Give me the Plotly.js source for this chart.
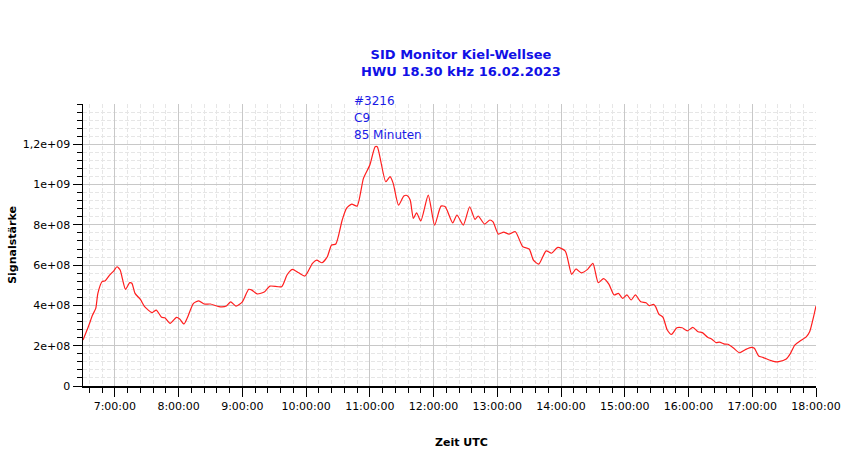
<!DOCTYPE html>
<html>
<head>
<meta charset="utf-8">
<script src="https://cdn.plot.ly/plotly-3.0.1.min.js"></script>
<style>
  html, body { margin: 0; padding: 0; background: #fff; }
  #sid-graph { width: 850px; height: 459px; }
</style>
</head>
<body>
<div id="sid-graph"></div>
<script>
'use strict';

// measurement day
var day = '2023-02-16';

// readings (UTC, HH:MM) and signal strength
var times = [
	'06:30', '06:35', '06:39', '06:42', '06:44', '06:48', '06:51', '06:55', '06:59', '07:02',
	'07:05', '07:07', '07:10', '07:14', '07:16', '07:19', '07:24', '07:28', '07:35', '07:39',
	'07:44', '07:47', '07:52', '07:58', '08:01', '08:05', '08:08', '08:14', '08:19', '08:24',
	'08:30', '08:38', '08:45', '08:49', '08:54', '09:00', '09:06', '09:09', '09:14', '09:21',
	'09:26', '09:37', '09:42', '09:47', '09:53', '09:59', '10:06', '10:10', '10:15', '10:20',
	'10:24', '10:28', '10:34', '10:38', '10:43', '10:48', '10:54', '11:00', '11:05', '11:07',
	'11:15', '11:19', '11:22', '11:27', '11:32', '11:35', '11:38', '11:41', '11:44', '11:48',
	'11:55', '12:01', '12:07', '12:11', '12:18', '12:22', '12:28', '12:34', '12:39', '12:42',
	'12:48', '12:53', '12:56', '13:01', '13:06', '13:11', '13:17', '13:24', '13:30', '13:34',
	'13:39', '13:46', '13:51', '13:57', '14:04', '14:10', '14:14', '14:19', '14:25', '14:30',
	'14:35', '14:40', '14:45', '14:50', '14:54', '14:58', '15:02', '15:06', '15:10', '15:15',
	'15:20', '15:23', '15:27', '15:29', '15:32', '15:36', '15:40', '15:44', '15:49', '15:54',
	'15:59', '16:04', '16:09', '16:13', '16:18', '16:22', '16:26', '16:29', '16:34', '16:37',
	'16:42', '16:48', '16:54', '16:59', '17:02', '17:06', '17:10', '17:16', '17:21', '17:25',
	'17:32', '17:36', '17:40', '17:45', '17:51', '17:54', '17:57', '18:00'
];

var signal = [
	2.28e8, 2.94e8, 3.52e8, 3.85e8, 4.60e8, 5.18e8, 5.23e8, 5.50e8, 5.72e8, 5.92e8,
	5.76e8, 5.34e8, 4.80e8, 5.13e8, 5.10e8, 4.60e8, 4.30e8, 3.94e8, 3.64e8, 3.77e8,
	3.41e8, 3.39e8, 3.11e8, 3.41e8, 3.33e8, 3.08e8, 3.36e8, 4.10e8, 4.23e8, 4.07e8,
	4.07e8, 3.94e8, 3.97e8, 4.18e8, 3.97e8, 4.18e8, 4.80e8, 4.76e8, 4.57e8, 4.68e8,
	4.96e8, 4.93e8, 5.51e8, 5.79e8, 5.62e8, 5.46e8, 6.09e8, 6.25e8, 6.12e8, 6.42e8,
	7.00e8, 7.05e8, 8.24e8, 8.82e8, 9.03e8, 8.93e8, 1.031e9, 1.097e9, 1.188e9, 1.188e9,
	1.014e9, 1.039e9, 1.006e9, 8.98e8, 9.43e8, 9.46e8, 9.23e8, 8.32e8, 8.60e8, 8.20e8,
	9.48e8, 7.99e8, 8.93e8, 8.90e8, 8.10e8, 8.49e8, 7.99e8, 8.90e8, 8.27e8, 8.44e8,
	8.04e8, 8.24e8, 8.15e8, 7.54e8, 7.64e8, 7.54e8, 7.66e8, 6.91e8, 6.80e8, 6.25e8,
	6.05e8, 6.71e8, 6.59e8, 6.88e8, 6.70e8, 5.54e8, 5.81e8, 5.62e8, 5.79e8, 6.09e8,
	5.13e8, 5.33e8, 5.06e8, 4.52e8, 4.60e8, 4.35e8, 4.52e8, 4.27e8, 4.52e8, 4.18e8,
	4.13e8, 3.99e8, 4.05e8, 3.94e8, 3.57e8, 3.41e8, 2.78e8, 2.56e8, 2.89e8, 2.89e8,
	2.74e8, 2.91e8, 2.69e8, 2.65e8, 2.42e8, 2.32e8, 2.15e8, 2.18e8, 2.08e8, 2.07e8,
	1.90e8, 1.65e8, 1.82e8, 1.92e8, 1.87e8, 1.49e8, 1.42e8, 1.29e8, 1.21e8, 1.21e8,
	1.34e8, 1.62e8, 2.03e8, 2.23e8, 2.45e8, 2.69e8, 3.28e8, 3.97e8
];

// axis ticks
var xTickTimes = ['07:00', '08:00', '09:00', '10:00', '11:00', '12:00', '13:00', '14:00', '15:00', '16:00', '17:00', '18:00'];
var xTickLabels = ['7:00:00', '8:00:00', '9:00:00', '10:00:00', '11:00:00', '12:00:00', '13:00:00', '14:00:00', '15:00:00', '16:00:00', '17:00:00', '18:00:00'];
var yTickVals = [0, 2e8, 4e8, 6e8, 8e8, 1e9, 1.2e9];
var yTickLabels = ['0', '2e+08', '4e+08', '6e+08', '8e+08', '1e+09', '1,2e+09'];

// flare info
var flareLines = ['#3216', 'C9', '85 Minuten'];

var toDate = function (t) {
	return day + ' ' + t;
};

var fontFamily = 'DejaVu Sans, Verdana, sans-serif';

var traces = [
	{
		x: times.map(toDate),
		y: signal,
		type: 'scatter',
		mode: 'lines',
		line: { color: 'rgb(255,30,30)', width: 1.2, shape: 'spline', smoothing: 0.6 },
		hoverinfo: 'none',
	},
];

// plot area in pixels: left 83, top 104, width 733, height 282
var annotations = [
	{
		// x axis label, centred like the original
		text: 'Zeit UTC',
		xref: 'paper',
		yref: 'paper',
		x: (461 - 83) / 733,
		y: (386 - 442) / 282,
		xanchor: 'center',
		yanchor: 'middle',
		showarrow: false,
		font: { family: fontFamily, size: 11, color: '#000', weight: 'bold' },
	},
];

// one annotation per info line, 17px apart
flareLines.forEach(function (line, i) {
	annotations.push({
		text: line,
		xref: 'paper',
		yref: 'paper',
		x: (352 - 83) / 733,
		y: (386 - 101 - i * 17) / 282,
		xanchor: 'left',
		yanchor: 'middle',
		align: 'left',
		showarrow: false,
		font: { family: fontFamily, size: 12, color: '#1a1ae6' },
	});
});

var layout = {
	width: 850,
	height: 459,
	margin: { l: 83, r: 34, t: 104, b: 73, pad: 0 },
	paper_bgcolor: '#fff',
	plot_bgcolor: '#fff',
	showlegend: false,
	font: { family: fontFamily, size: 11, color: '#000' },
	title: {
		text: 'SID Monitor Kiel-Wellsee<br>HWU 18.30 kHz 16.02.2023',
		font: { family: fontFamily, size: 13, color: '#1010e6', weight: 'bold' },
		x: 461 / 850,
		xanchor: 'center',
		y: 1 - 59 / 459,
		yanchor: 'top',
	},
	xaxis: {
		type: 'date',
		range: [toDate('06:30'), toDate('18:00')],
		tickvals: xTickTimes.map(toDate),
		ticktext: xTickLabels,
		ticks: 'outside',
		ticklen: 9,
		tickcolor: '#000',
		tickwidth: 1,
		showline: true,
		linecolor: '#000',
		linewidth: 1.5,
		showgrid: true,
		gridcolor: '#c8c8c8',
		gridwidth: 1,
		zeroline: false,
		tickfont: { family: fontFamily, size: 11, color: '#000' },
		minor: {
			tick0: toDate('07:00'),
			dtick: 12 * 60 * 1000,
			ticks: 'outside',
			ticklen: 5,
			tickcolor: '#000',
			showgrid: true,
			gridcolor: '#e6e6e6',
			griddash: '4px,2px',
			gridwidth: 1,
		},
	},
	yaxis: {
		range: [0, 1.4e9],
		tickvals: yTickVals,
		ticktext: yTickLabels,
		ticks: 'outside',
		ticklen: 9,
		tickcolor: '#000',
		showline: true,
		linecolor: '#000',
		linewidth: 1.5,
		showgrid: true,
		gridcolor: '#c8c8c8',
		gridwidth: 1,
		zeroline: false,
		tickfont: { family: fontFamily, size: 11, color: '#000' },
		title: {
			text: 'Signalstärke',
			font: { family: fontFamily, size: 11, color: '#000', weight: 'bold' },
			standoff: 4,
		},
		minor: {
			tick0: 0,
			dtick: 4e7,
			ticks: 'outside',
			ticklen: 5,
			tickcolor: '#000',
			showgrid: true,
			gridcolor: '#e6e6e6',
			griddash: '4px,2px',
			gridwidth: 1,
		},
	},
	annotations: annotations,
};

Plotly.newPlot('sid-graph', traces, layout, { displayModeBar: false, staticPlot: true });
</script>
</body>
</html>
